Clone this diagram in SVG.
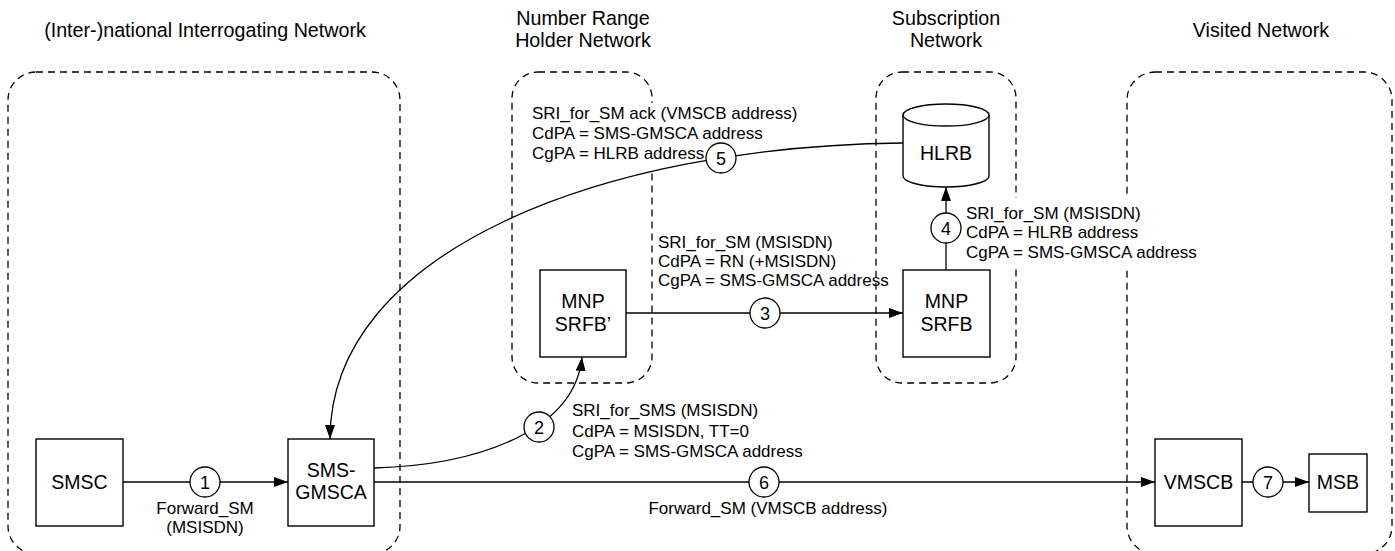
<svg xmlns="http://www.w3.org/2000/svg" width="1395" height="551" viewBox="0 0 1395 551">
<style>
text{font-family:"Liberation Sans",Arial,sans-serif;fill:#000}
.t{font-size:19.7px;text-anchor:middle}
.n{font-size:19.5px;text-anchor:middle}
.l{font-size:17px}
.c{font-size:18px;text-anchor:middle}
.zone{fill:none;stroke:#000;stroke-width:1.3;stroke-dasharray:7 5}
.box{fill:#fff;stroke:#000;stroke-width:1.4}
.w{fill:none;stroke:#000;stroke-width:1.3}
.num{fill:#fff;stroke:#000;stroke-width:1.3}
.bg{fill:#fff;stroke:none}
</style>
<defs>
<marker id="arr" viewBox="0 0 14 10" refX="14" refY="5" markerWidth="14" markerHeight="10" markerUnits="userSpaceOnUse" orient="auto"><path d="M0,0 L14,5 L0,10 z" fill="#000"/></marker>
</defs>
<rect width="1395" height="551" fill="#fff"/>

<g id="zones">
<g id="zone-interrogating">
<rect class="zone" x="8" y="72" width="392" height="482" rx="28" ry="28"/>
<text class="t" x="205" y="37">(Inter-)national Interrogating Network</text>
</g>
<g id="zone-numberrange">
<rect class="zone" x="512" y="72" width="140" height="311" rx="26" ry="26"/>
<text class="t" x="583" y="25">Number Range</text>
<text class="t" x="583" y="47">Holder Network</text>
</g>
<g id="zone-subscription">
<rect class="zone" x="876" y="72" width="140" height="311" rx="26" ry="26"/>
<text class="t" x="946" y="25">Subscription</text>
<text class="t" x="946" y="47">Network</text>
</g>
<g id="zone-visited">
<rect class="zone" x="1127" y="72" width="265" height="482" rx="28" ry="28"/>
<text class="t" x="1261" y="37">Visited Network</text>
</g>
</g>

<g id="connectors">
<g id="c1">
<line class="w" x1="123" y1="482" x2="288" y2="482" marker-end="url(#arr)"/>
<circle class="num" cx="205" cy="482" r="15"/>
<text class="c" x="205" y="488.5">1</text>
<text class="l" x="205" y="514" text-anchor="middle">Forward_SM</text>
<text class="l" x="205" y="533" text-anchor="middle">(MSISDN)</text>
</g>
<g id="c2">
<path class="w" d="M374,468 C480,465 575,430 582,357" marker-end="url(#arr)"/>
<circle class="num" cx="539" cy="427" r="15"/>
<text class="c" x="539" y="433.5">2</text>
<text class="l" x="572" y="416">SRI_for_SMS (MSISDN)</text>
<text class="l" x="572" y="437">CdPA = MSISDN, TT=0</text>
<text class="l" x="572" y="457">CgPA = SMS-GMSCA address</text>
</g>
<g id="c3">
<line class="w" x1="626" y1="313" x2="903" y2="313" marker-end="url(#arr)"/>
<circle class="num" cx="765" cy="313" r="15"/>
<text class="c" x="765" y="319.5">3</text>
<text class="l" x="658" y="248">SRI_for_SM (MSISDN)</text>
<text class="l" x="658" y="267">CdPA = RN (+MSISDN)</text>
<text class="l" x="658" y="286">CgPA = SMS-GMSCA address</text>
</g>
<g id="c4">
<line class="w" x1="946" y1="270" x2="946" y2="187" marker-end="url(#arr)"/>
<circle class="num" cx="946" cy="228" r="15"/>
<text class="c" x="946" y="234.5">4</text>
<rect class="bg" x="962" y="198" width="243" height="70"/>
<text class="l" x="966" y="219">SRI_for_SM (MSISDN)</text>
<text class="l" x="966" y="238">CdPA = HLRB address</text>
<text class="l" x="966" y="258">CgPA = SMS-GMSCA address</text>
</g>
<g id="c5">
<rect class="bg" x="526" y="103" width="274" height="68"/>
<path class="w" d="M903,143 C600,146 330,252 330,439" marker-end="url(#arr)"/>
<text class="l" x="532" y="119">SRI_for_SM ack (VMSCB address)</text>
<text class="l" x="532" y="139">CdPA = SMS-GMSCA address</text>
<text class="l" x="532" y="159">CgPA = HLRB address</text>
<circle class="num" cx="721" cy="158" r="15"/>
<text class="c" x="721" y="164.5">5</text>
</g>
<g id="c6">
<line class="w" x1="374" y1="482" x2="1155" y2="482" marker-end="url(#arr)"/>
<circle class="num" cx="764" cy="482" r="15"/>
<text class="c" x="764" y="488.5">6</text>
<text class="l" x="768" y="514" text-anchor="middle">Forward_SM (VMSCB address)</text>
</g>
<g id="c7">
<line class="w" x1="1242" y1="482" x2="1309" y2="482" marker-end="url(#arr)"/>
<circle class="num" cx="1268" cy="482" r="15"/>
<text class="c" x="1268" y="488.5">7</text>
</g>
</g>

<g id="smsc">
<rect class="box" x="36" y="439" width="87" height="87"/>
<text class="n" x="79.5" y="489">SMSC</text>
</g>
<g id="sms-gmsca">
<rect class="box" x="288" y="439" width="86" height="87"/>
<text class="n" x="331" y="477">SMS-</text>
<text class="n" x="331" y="499">GMSCA</text>
</g>
<g id="mnp-srfb-prime">
<rect class="box" x="540" y="270" width="86" height="87"/>
<text class="n" x="583" y="308">MNP</text>
<text class="n" x="583" y="331">SRFB’</text>
</g>
<g id="mnp-srfb">
<rect class="box" x="903" y="270" width="87" height="87"/>
<text class="n" x="946.5" y="308">MNP</text>
<text class="n" x="946.5" y="331">SRFB</text>
</g>
<g id="hlrb">
<path class="box" d="M903,115 L903,176 A43,11 0 0 0 989,176 L989,115 A43,11 0 0 0 903,115 Z"/>
<path class="w" d="M903,115 A43,11 0 0 0 989,115"/>
<text class="n" x="946" y="160">HLRB</text>
</g>
<g id="vmscb">
<rect class="box" x="1155" y="439" width="87" height="87"/>
<text class="n" x="1198.5" y="489">VMSCB</text>
</g>
<g id="msb">
<rect class="box" x="1309" y="454" width="58" height="58"/>
<text class="n" x="1338" y="489">MSB</text>
</g>
</svg>
